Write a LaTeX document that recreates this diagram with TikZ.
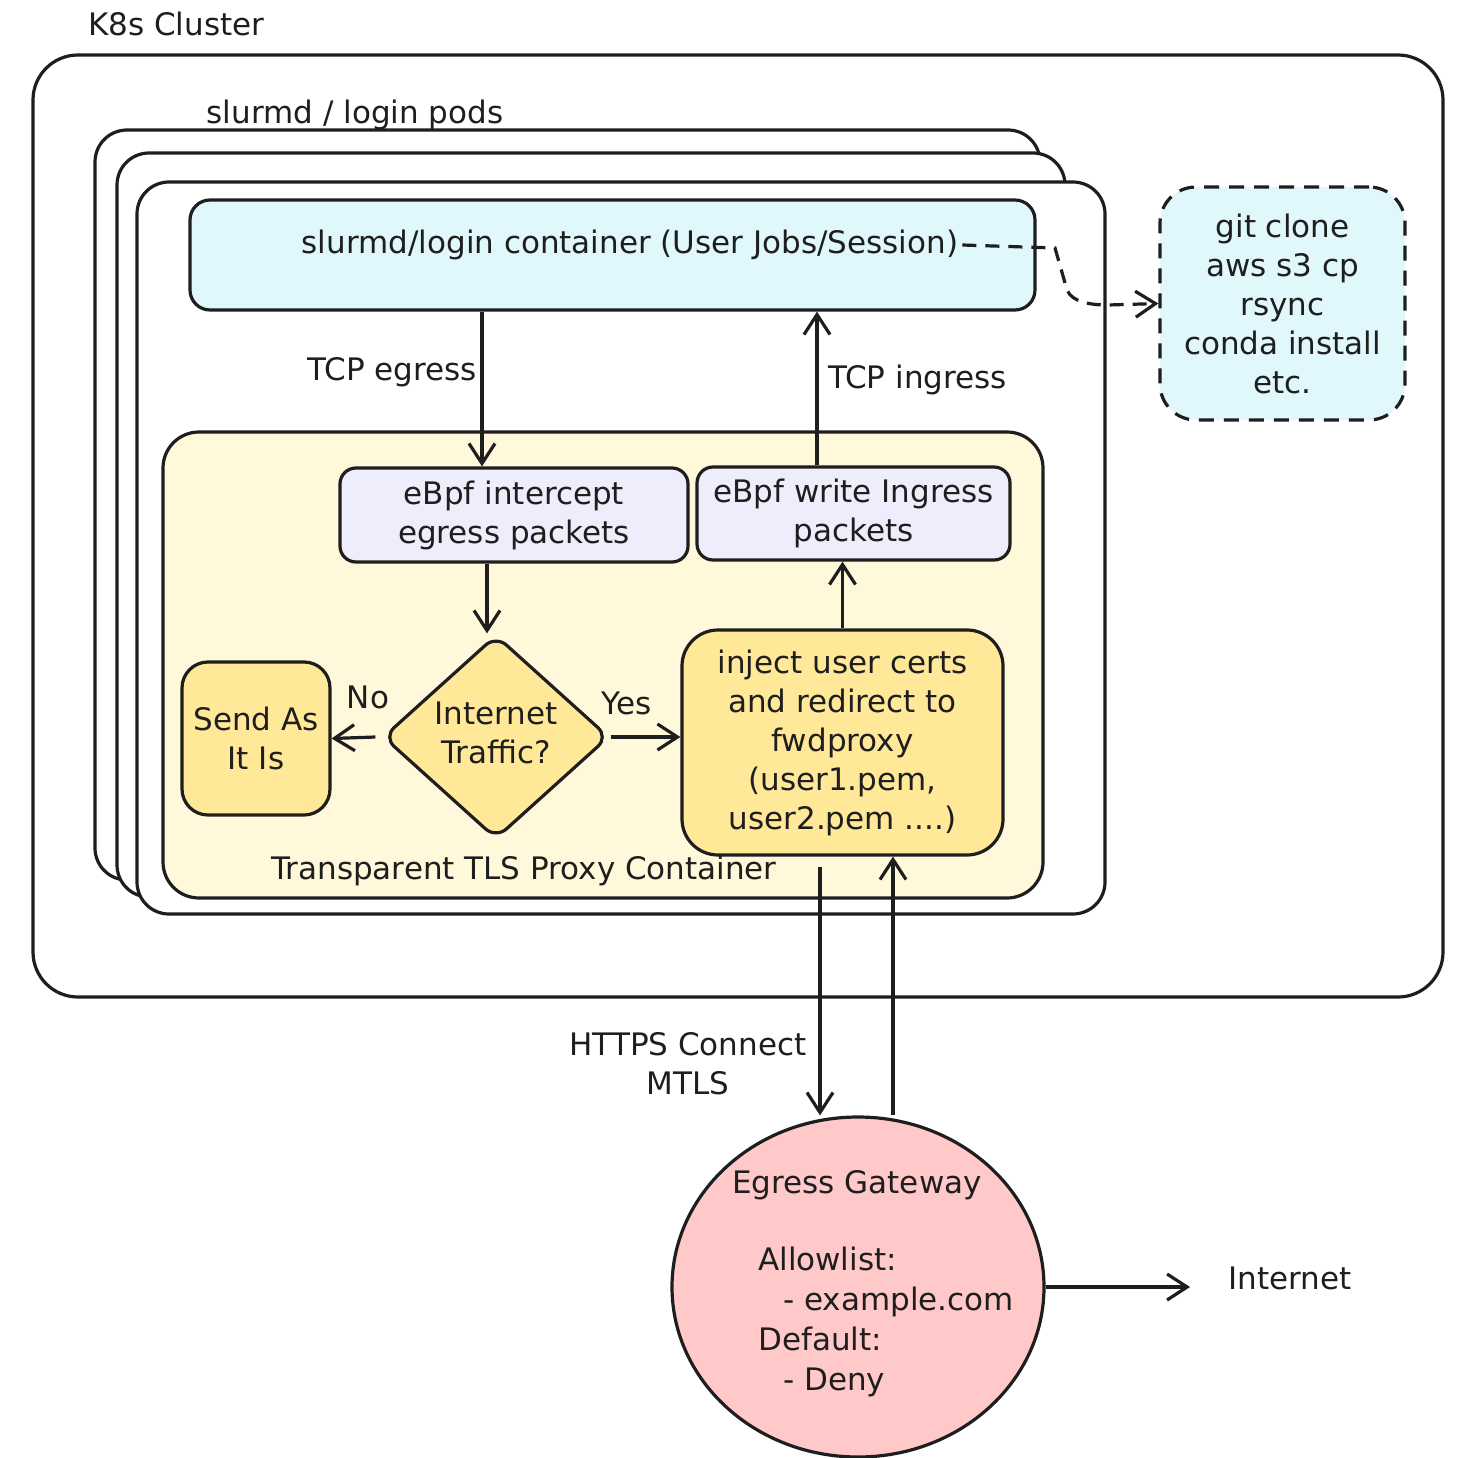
\documentclass[tikz,border=0pt]{standalone}
\usepackage{fontspec}
\setmainfont{DejaVu Sans}
\usetikzlibrary{arrows.meta,shapes.geometric}
\definecolor{ink}{HTML}{1E1E1E}
\definecolor{cyanfill}{HTML}{E0F7FB}
\definecolor{paleyellow}{HTML}{FFF8DA}
\definecolor{yellowfill}{HTML}{FFE898}
\definecolor{lavender}{HTML}{EDEDFB}
\definecolor{pinkfill}{HTML}{FFC9C9}
\begin{document}
\begin{tikzpicture}[x=1pt,y=-1pt,
  stroke/.style={draw=ink, line width=3.2pt},
  lbl/.style={font=\fontsize{31}{39}\selectfont, text=ink, align=center, inner sep=0pt},
  box/.style={stroke, inner sep=0pt, align=center, text=ink, font=\fontsize{31}{39}\selectfont},
  tip/.style={-{Straight Barb[length=20pt,width=26pt,line width=3.2pt]}},
  arr/.style={stroke, tip},
]
\useasboundingbox (0,0) rectangle (1456,1458);

% cluster frame
\draw[stroke, fill=white, rounded corners=45pt] (33,55) rectangle (1443,997);
\node[lbl, anchor=west] (k8s) at (88,24) {K8s Cluster};

% stacked pods
\draw[stroke, fill=white, rounded corners=32pt] (95,130) rectangle (1040,880);
\draw[stroke, fill=white, rounded corners=32pt] (117,153) rectangle (1065,897);
\draw[stroke, fill=white, rounded corners=32pt] (137,182) rectangle (1105,914);
\node[lbl] (pods) at (355,115) {slurmd / login pods};

% user container
\node[box, fill=cyanfill, rounded corners=20pt, minimum width=845pt, minimum height=110pt]
  (container) at (612.5,255) {};
\node[lbl] (containerlabel) at (630,245) {slurmd/login container (User Jobs/Session)};

% proxy container
\draw[stroke, fill=paleyellow, rounded corners=36pt] (163,432) rectangle (1043,898);
\node[lbl] (proxylabel) at (524,871) {Transparent TLS Proxy Container};

\node[box, fill=lavender, rounded corners=16pt, minimum width=348pt, minimum height=94pt]
  (intercept) at (514,515) {eBpf intercept\\egress packets};
\node[box, fill=lavender, rounded corners=16pt, minimum width=313pt, minimum height=93pt]
  (write) at (853.5,513.5) {eBpf write Ingress\\packets};

\node[stroke, diamond, fill=yellowfill, rounded corners=14pt, aspect=1.11, inner sep=0pt,
  minimum width=226pt, minimum height=204pt]
  (decide) at (496,737) {};
\node[lbl] (decidelabel) at (496,733) {Internet\\Traffic?};
\node[box, fill=yellowfill, rounded corners=26pt, minimum width=148pt, minimum height=153pt]
  (send) at (256,738.5) {Send As\\It Is};
\node[box, fill=yellowfill, rounded corners=36pt, minimum width=321pt, minimum height=225pt]
  (inject) at (842.5,742.5) {inject user certs\\and redirect to\\fwdproxy\\(user1.pem,\\user2.pem ....)};

% external tools
\node[box, fill=cyanfill, dashed, dash pattern=on 15pt off 10pt, rounded corners=36pt,
  minimum width=245pt, minimum height=233pt]
  (git) at (1282.5,303.5) {git clone\\aws s3 cp\\rsync\\conda install\\etc.};

% egress gateway
\node[stroke, ellipse, fill=pinkfill, minimum width=372pt, minimum height=340pt, inner sep=0pt]
  (gw) at (858,1287) {};
\node[lbl] (gwtitle) at (857,1185) {Egress Gateway};
\node[lbl, align=left, anchor=west, font=\fontsize{31}{40}\selectfont] (gwrules) at (758,1322)
  {Allowlist:\\\hspace*{25pt}- example.com\\Default:\\\hspace*{25pt}- Deny};
\node[lbl, anchor=west] (internet) at (1228,1278) {Internet};

% connectors
\draw[arr] (container.south -| 482,0) -- (intercept.north -| 482,0);
\node[lbl, anchor=east] (egresslbl) at (477,372) {TCP egress};
\draw[arr] (write.north -| 817,0) -- (container.south -| 817,0);
\node[lbl, anchor=west] (ingresslbl) at (828,380) {TCP ingress};

\draw[arr] (intercept.south -| 487,0) -- (decide.north -| 487,0);
\draw[arr] ([xshift=-6pt]decide.west) -- (send.east);
\node[lbl] (nolbl) at (368,697) {No};
\draw[arr] (decide.east) -- (inject.west |- decide.east);
\node[lbl] (yeslbl) at (627,703) {Yes};
\draw[arr] (inject.north) -- (write.south -| inject.north);

\draw[arr] ([yshift=-10pt]inject.south -| 820,0) -- (gw.north -| 820,0);
\draw[arr] (gw.north -| 893,0) -- (inject.south -| 893,0);
\node[lbl] (httpslbl) at (688,1064) {HTTPS Connect\\MTLS};

\draw[arr] (gw.east) -- ([xshift=-38pt]internet.west |- gw.east);

\draw[stroke, dashed, dash pattern=on 14pt off 9pt, tip]
  ([xshift=4pt]containerlabel.east) -- (1055,248) -- (1067,290)
  .. controls (1072,302) and (1090,305) .. (1108,305) -- (git.west);
\end{tikzpicture}
\end{document}
